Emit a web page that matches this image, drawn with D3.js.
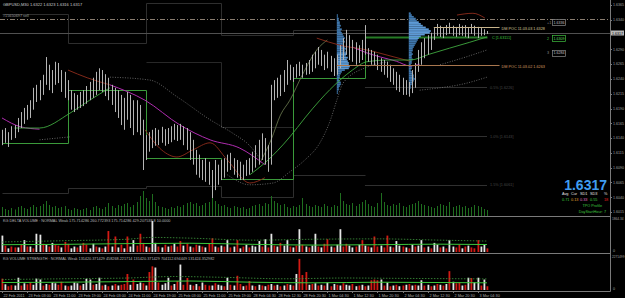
<!DOCTYPE html>
<html>
<head>
<meta charset="utf-8">
<script src="https://cdn.jsdelivr.net/npm/d3@7"></script>
<style>
html, body { margin: 0; padding: 0; background: #000; }
svg { display: block; }
text { font-family: Arial, "Liberation Sans", sans-serif; }
</style>
</head>
<body>
<svg id="chart"></svg>
<script>
// ---- data ----
var symbolTitle = "GBPUSD,M30  1.6322 1.6323 1.6316 1.6317";
var lastPrice = 1.6317;

// one bar per hour, left to right
var highs = [1.6154,1.6157,1.6150,1.6160,1.6162,1.6174,1.6184,1.6191,1.6196,1.6204,
  1.6225,1.6230,1.6238,1.6247,1.6277,1.6264,1.6255,1.6269,1.6267,1.6255,
  1.6252,1.6238,1.6221,1.6216,1.6213,1.6218,1.6221,1.6228,1.6235,1.6242,
  1.6252,1.6258,1.6255,1.6248,1.6242,1.6230,1.6225,1.6221,1.6213,1.6208,
  1.6218,1.6213,1.6204,1.6204,1.6196,1.6171,1.6145,1.6150,1.6154,1.6157,
  1.6154,1.6159,1.6155,1.6157,1.6160,1.6164,1.6162,1.6164,1.6160,1.6157,
  1.6150,1.6137,1.6120,1.6112,1.6103,1.6106,1.6100,1.6086,1.6103,1.6095,
  1.6103,1.6106,1.6112,1.6115,1.6106,1.6103,1.6100,1.6095,1.6103,1.6106,
  1.6117,1.6128,1.6137,1.6148,1.6140,1.6128,1.6230,1.6238,1.6242,1.6247,
  1.6255,1.6272,1.6264,1.6260,1.6265,1.6269,1.6264,1.6267,1.6272,1.6281,
  1.6286,1.6294,1.6289,1.6281,1.6286,1.6279,1.6275,1.6281,1.6297,1.6309,
  1.6323,1.6314,1.6306,1.6302,1.6297,1.6306,1.6331,1.6292,1.6289,1.6286,
  1.6281,1.6275,1.6272,1.6269,1.6264,1.6258,1.6252,1.6247,1.6242,1.6238,
  1.6235,1.6255,1.6267,1.6289,1.6302,1.6309,1.6314,1.6318,1.6326,1.6333,
  1.6330,1.6326,1.6331,1.6335,1.6330,1.6328,1.6333,1.6330,1.6331,1.6326,
  1.6333,1.6330,1.6328,1.6326,1.6324,1.6321];
var lows = [1.6128,1.6132,1.6125,1.6137,1.6140,1.6150,1.6157,1.6164,1.6171,1.6174,
  1.6188,1.6201,1.6204,1.6213,1.6230,1.6221,1.6216,1.6230,1.6233,1.6218,
  1.6208,1.6204,1.6188,1.6184,1.6188,1.6191,1.6194,1.6198,1.6204,1.6208,
  1.6213,1.6221,1.6218,1.6211,1.6204,1.6196,1.6184,1.6174,1.6162,1.6154,
  1.6171,1.6157,1.6145,1.6150,1.6145,1.6086,1.6103,1.6117,1.6123,1.6127,
  1.6128,1.6132,1.6127,1.6130,1.6133,1.6137,1.6135,1.6137,1.6128,1.6120,
  1.6103,1.6095,1.6078,1.6073,1.6069,1.6066,1.6061,1.6030,1.6052,1.6061,
  1.6069,1.6073,1.6083,1.6086,1.6078,1.6073,1.6069,1.6069,1.6076,1.6078,
  1.6083,1.6090,1.6095,1.6103,1.6095,1.6083,1.6095,1.6204,1.6208,1.6211,
  1.6218,1.6230,1.6238,1.6235,1.6242,1.6245,1.6242,1.6247,1.6248,1.6252,
  1.6258,1.6264,1.6262,1.6255,1.6258,1.6252,1.6245,1.6247,1.6258,1.6272,
  1.6281,1.6272,1.6269,1.6264,1.6267,1.6272,1.6281,1.6269,1.6264,1.6262,
  1.6255,1.6252,1.6247,1.6242,1.6235,1.6230,1.6221,1.6218,1.6213,1.6213,
  1.6210,1.6216,1.6225,1.6252,1.6264,1.6275,1.6281,1.6289,1.6306,1.6313,
  1.6311,1.6309,1.6314,1.6316,1.6313,1.6311,1.6314,1.6313,1.6311,1.6309,
  1.6316,1.6313,1.6309,1.6313,1.6314,1.6316];

var tickVolume = [900,700,600,800,650,900,1000,800,700,900,
  1100,900,1000,1200,1500,1100,900,1000,800,900,
  1000,700,600,800,700,600,700,800,600,900,
  1000,800,700,900,1300,1000,800,1100,1000,1200,
  1300,900,1100,1400,2000,2500,1800,1500,2200,1400,
  1000,900,800,700,900,800,1000,900,1100,1300,
  1400,1200,1300,1000,1100,1300,1400,1800,1500,1200,
  1000,1100,900,800,1000,900,800,900,700,800,
  1000,1100,1200,1000,1300,1200,2000,1500,1300,1100,
  1200,900,800,1000,900,1100,1800,1200,1000,900,
  1100,1000,900,1200,1000,900,1100,1000,2300,1500,
  1200,1100,1300,1000,1200,1400,1600,1200,1000,900,
  1300,2300,1400,1100,1000,1200,1100,1300,1000,900,
  1100,1200,1300,1500,1200,1100,1000,900,800,1000,
  1200,1100,1000,1400,900,1000,1100,900,1000,800,
  900,1100,1000,900,700,600];

// sign: + white bar, - red bar
var deltaVolume = [900,-350,200,-300,-250,250,-400,650,-300,300,
  -200,1000,950,-450,400,-300,500,-400,-350,250,
  -550,-450,200,300,-250,350,-500,-400,200,450,
  -300,250,-200,300,-1150,300,-850,250,-400,200,
  -850,300,650,-350,-1000,-500,300,-250,1700,500,
  -300,250,-400,300,-350,450,-300,-600,350,-450,
  300,-250,-400,350,-300,250,-450,-750,300,-250,
  350,-300,650,-250,300,-650,200,-300,400,-250,
  350,300,600,-300,700,-250,1000,-350,300,-500,
  350,650,-300,250,-350,1250,-400,300,-250,350,
  1000,-300,250,-450,-700,300,-250,400,1250,-300,
  -450,350,250,-300,400,-650,350,-300,250,-850,
  -300,350,-250,-900,300,-250,600,350,-300,250,
  -200,400,-300,350,650,-250,300,-200,500,400,
  -250,300,-200,650,300,-250,-400,200,-300,350,
  -250,-200,-650,300,400,-200];
var deltaAvg = [[0,400],[20,420],[40,460],[60,480],[80,420],[100,380],[120,400],[140,430],[155,410]];
var deltaBand = [[0,550],[20,620],[40,700],[48,800],[60,760],[80,650],[100,700],[120,720],[140,650],[155,600]];

// thousands, sign: + white bar, - red bar
var volStrength = [-760,380,-250,-320,300,820,-300,450,-380,-500,
  350,760,700,-300,400,-350,500,450,-350,-550,
  300,-250,300,500,450,-300,400,750,700,-350,
  400,820,-300,350,-250,300,-400,300,-350,-400,
  -1070,350,-700,400,500,-450,300,-1200,-1580,1500,
  -500,350,450,820,-300,400,-600,1700,-350,-800,
  350,-300,400,-250,500,-350,-300,300,-450,350,
  300,-250,820,-350,300,-950,-400,250,-300,-600,
  300,-250,350,-300,250,-350,400,-300,350,-250,
  300,-400,350,-300,1070,-2080,-1000,-1200,350,-400,
  450,-300,350,-300,500,-250,400,-350,300,-450,
  350,300,-400,250,-300,350,-250,300,-650,-700,
  -650,700,-300,500,-250,300,-350,250,-300,350,
  -400,300,-350,300,650,-300,350,-250,300,-400,
  350,-300,400,-1260,550,-450,-500,300,-350,820,
  -800,500,820,-300,700,-250];
var strengthAvg = [[0,500],[20,520],[40,560],[60,600],[80,520],[100,480],[120,520],[140,500],[155,480]];
var strengthBand = [[0,700],[20,750],[40,800],[55,900],[70,850],[90,750],[110,800],[125,780],[140,760],[155,740]];

var priceTicks = [1.6365,1.6340,1.6290,1.6265,1.6240,1.6215,1.6190,1.6165,1.6140,1.6115,1.6090,1.6065,1.6040,1.6015];
var timeLabels = ["22 Feb 2011","23 Feb 03:00","23 Feb 11:00","23 Feb 19:00","24 Feb 03:00","24 Feb 11:00",
  "24 Feb 19:00","25 Feb 03:00","25 Feb 11:00","25 Feb 19:00","28 Feb 04:30","28 Feb 12:30","28 Feb 20:30",
  "1 Mar 04:30","1 Mar 12:30","1 Mar 20:30","2 Mar 04:30","2 Mar 12:30","2 Mar 20:30","3 Mar 04:30"];

// session levels (bar index, price), drawn as steps
var valueStep = [[0,1.6132],[21,1.6221],[46,1.6106],[70,1.6071],[93,1.6242],[116,1.6311],[155,1.6311]];
var prevHigh = [[0,1.6350],[21,1.6301],[46,1.6368],[70,1.6314],[93,1.6323],[116,1.6323]];
var prevMid = [[46,1.6269],[70,1.6159],[93,1.6159]];
var prevLow = [[0,1.6047],[21,1.6056],[46,1.6059],[70,1.6040],[93,1.6078],[116,1.6078]];
var pctLevels = [1.6226, 1.6143, 1.6061];
var pctNames = ["0.5% [1.6226]", "1.0% [1.6143]", "1.5% [1.6061]"];

// indicator curves (bar index, price)
var magentaA = [[0,1.6174],[6,1.6159],[12,1.6155]];
var magentaB = [[34.5,1.6230],[45.7,1.6204],[56.9,1.6162],[66.5,1.6137],[76,1.6123],[84,1.6095]];
var magentaC = [[112,1.6294],[116.6,1.6284],[121,1.6277],[126,1.6270],[130.4,1.6262],[133.5,1.6265]];
var brownA = [[21.1,1.6255],[27.2,1.6242],[34.5,1.6230]];
var brownB = [[45.7,1.6154],[51,1.6120],[55.9,1.6108],[61,1.6120],[66.5,1.6132],[72,1.6103],[79.2,1.6064],[84,1.6073]];
var brownC = [[100.6,1.6309],[108,1.6297],[116.6,1.6289],[124,1.6279],[130.4,1.6270]];
var brownD = [[145.4,1.6348],[150.5,1.6351],[154.3,1.6343]];
var greenA = [[4,1.6157],[12,1.6157],[21.7,1.6182],[28,1.6204],[34.5,1.6225]];
var greenB = [[79.2,1.6078],[84,1.6098],[92,1.6142],[96.8,1.6174],[101.6,1.6204],[108,1.6238],[112,1.6255],
  [116.6,1.6269],[124,1.6272],[130.4,1.6272],[136.7,1.6282],[143,1.6292],[149.5,1.6302],[155,1.6311]];
var oliveA = [[82.4,1.6098],[86,1.6137],[89,1.6179],[92,1.6204],[96,1.6247],[100.6,1.6289],[104,1.6306]];
var dotA = [[34.5,1.6243],[47.3,1.6238],[55.9,1.6210],[66.5,1.6171],[73.8,1.6148],[79,1.6128],[82.4,1.6106]];
var dotB = [[72,1.6078],[79.2,1.6061],[86.6,1.6064],[92,1.6083],[96.8,1.6103],[101.6,1.6132],[105,1.6171],
  [107,1.6204],[109,1.6233],[116.6,1.6260],[124,1.6269]];
var dotC = [[133.5,1.6221],[140,1.6225],[147,1.6231],[155,1.6243]];
var dotD = [[140,1.6264],[147,1.6275],[155,1.6289]];
var dotE = [[12,1.6137],[21.7,1.6142]];

// TPO profiles: counts per row from the top price down
var tpoStep = 0.0003;
var tpo1Top = 1.6348, tpo1Bar = 107;
var tpo1Counts = [1,1,2,2,3, 3,4,3,5,4,5, 6,7,8,7,8,6,7,8,9,8, 9,10,9,11,10,11,12,12,13,12, 8,5,4,3,3,2, 3,4,4,3,2,2,1,1];
var tpo2Top = 1.6351, tpo2Bar = 130;
var tpo2Counts = [2,3,5,7,8,10,12,14, 17,20,22,21,16,12, 10,9,8,7,6,5, 4,4,3,4,3,3,4,3,3,2,3, 3,2,3,4,5,5,6,5,4,3,2,2,1,1,1];

var pocPrices = [1.6328, 1.6263];
var pocFrom = [138, 107];
var pocNames = ["DM POC 11.03.03 1.6328", "DM POC 11.03.02 1.6263"];
var closeLevel = 1.6311, closeName = "C [1.63111]";
var tradeLevel = 1.6341, tradeName = "#15650697 sell";
var markPrices = [1.6336, 1.6309, 1.6284];
var markTags = ["+1", "2", "3"];

var statHeads = ["Avg", "Cur", "SD1", "SD3", "%"];
var statValues = ["0.71", "0.13", "0.33", "0.55", "18"];

// ---- layout ----
var WIDTH = 625, HEIGHT = 298;
var axisX = 610, mainBottom = 216, p1Bottom = 253, p2Bottom = 291;

var svg = d3.select("#chart").attr("width", WIDTH).attr("height", HEIGHT);
svg.append("rect").attr("width", WIDTH).attr("height", HEIGHT).attr("fill", "#000");

svg.append("defs").append("clipPath").attr("id", "mainClip")
  .append("rect").attr("x", 0).attr("y", 0).attr("width", axisX).attr("height", mainBottom);

var xBar = d3.scaleLinear().domain([0, 155]).range([2, 487]);
var yP = d3.scaleLinear().domain([1.6015, 1.6365]).range([212, 5]);
var yVol = d3.scaleLinear().domain([0, 3000]).range([mainBottom, mainBottom - 30]);
var yD = d3.scaleLinear().domain([0, 1864.34]).range([p1Bottom - 1, 218]);
var yS = d3.scaleLinear().domain([0, 2271.499]).range([p2Bottom - 1, 256]);
var wCount = d3.scaleLinear().domain([0, 22]).range([0, 22]);

var main = svg.append("g").attr("clip-path", "url(#mainClip)");

var smoothLine = d3.line().x(d => xBar(d[0])).y(d => yP(d[1])).curve(d3.curveMonotoneX);
var stepLine = d3.line().x(d => Math.round(xBar(d[0])) + 0.5).y(d => Math.round(yP(d[1])) + 0.5)
  .curve(d3.curveStepAfter);

function path(g, pts, gen, color, width, dash) {
  var p = g.append("path").datum(pts).attr("d", gen)
    .attr("fill", "none").attr("stroke", color).attr("stroke-width", width);
  if (dash) p.attr("stroke-dasharray", dash);
  return p;
}

// previous session levels
path(main, prevHigh, stepLine, "#2e2e2e", 1);
path(main, prevMid, stepLine, "#282828", 1);
path(main, prevLow, stepLine, "#2e2e2e", 1);
pctLevels.forEach(function (p, i) {
  main.append("line").attr("x1", xBar(116)).attr("x2", xBar(155))
    .attr("y1", Math.round(yP(p)) + 0.5).attr("y2", Math.round(yP(p)) + 0.5)
    .attr("stroke", "#303030");
  main.append("text").attr("x", xBar(155) + 3).attr("y", yP(p) + 1.5)
    .attr("font-size", 3.8).attr("fill", "#454545").text(pctNames[i]);
});

// trade line
main.append("line").attr("x1", 0).attr("x2", axisX)
  .attr("y1", Math.round(yP(tradeLevel)) + 0.5).attr("y2", Math.round(yP(tradeLevel)) + 0.5)
  .attr("stroke", "#8a7d70").attr("stroke-dasharray", "5,2,1,2");
main.append("text").attr("x", 3).attr("y", yP(tradeLevel) - 2)
  .attr("font-size", 3.8).attr("fill", "#9a9a9a").text(tradeName);

// bid line
main.append("line").attr("x1", 0).attr("x2", axisX)
  .attr("y1", Math.round(yP(lastPrice)) + 0.5).attr("y2", Math.round(yP(lastPrice)) + 0.5)
  .attr("stroke", "#505050");

// value area step
path(main, valueStep.slice(0, 6), stepLine, "#3a9a3a", 1);
path(main, valueStep.slice(5), stepLine, "#257a25", 2);

// TPO profiles
function profile(counts, top, bar) {
  var rowH = yP(top - tpoStep) - yP(top);
  main.append("g").selectAll("rect").data(counts).enter().append("rect")
    .attr("x", xBar(bar))
    .attr("y", (d, i) => yP(top - i * tpoStep) - rowH / 2)
    .attr("width", d => wCount(d))
    .attr("height", rowH)
    .attr("fill", (d, i) => (d >= 10 ? "#5d9ad6" : "#3f77ad"));
}
profile(tpo1Counts, tpo1Top, tpo1Bar);
profile(tpo2Counts, tpo2Top, tpo2Bar);

// dotted bands
[dotA, dotB, dotC, dotD, dotE].forEach(function (d) {
  path(main, d, smoothLine, "#7a7a7a", 0.8, "1,1.5");
});
path(main, oliveA, smoothLine, "#6e7d52", 0.8);

// moving averages
[magentaA, magentaB, magentaC].forEach(d => path(main, d, smoothLine, "#b02cb0", 1));
[brownA, brownB, brownC, brownD].forEach(d => path(main, d, smoothLine, "#8e2c1c", 0.9));
[greenA, greenB].forEach(d => path(main, d, smoothLine, "#3fa83f", 0.9));

// price bars
main.append("g").selectAll("line").data(highs).enter().append("line")
  .attr("x1", (d, i) => Math.round(xBar(i)) + 0.5)
  .attr("x2", (d, i) => Math.round(xBar(i)) + 0.5)
  .attr("y1", d => yP(d))
  .attr("y2", (d, i) => yP(lows[i]))
  .attr("stroke", "#b4b4b4").attr("stroke-width", 1);

// tick volume
main.append("g").selectAll("rect").data(tickVolume).enter().append("rect")
  .attr("x", (d, i) => Math.round(xBar(i)))
  .attr("y", d => yVol(d))
  .attr("width", 1)
  .attr("height", d => mainBottom - yVol(d))
  .attr("fill", "#1f6e1f");

// POC lines and labels
pocPrices.forEach(function (p, i) {
  var col = i === 0 ? "#c8b48c" : "#a8764e";
  main.append("line").attr("x1", xBar(pocFrom[i])).attr("x2", xBar(159))
    .attr("y1", Math.round(yP(p)) + 0.5).attr("y2", Math.round(yP(p)) + 0.5)
    .attr("stroke", col);
  main.append("text").attr("x", xBar(159) + 2).attr("y", yP(p) + 3)
    .attr("font-size", 3.8).attr("fill", i === 0 ? "#d8c89a" : "#d39a62").text(pocNames[i]);
});
main.append("text").attr("x", xBar(155) + 5).attr("y", yP(closeLevel) + 2.5)
  .attr("font-size", 3.8).attr("fill", "#3fc43f").text(closeName);

// level marks
markPrices.forEach(function (p, i) {
  var y = yP(p);
  var col = i === 1 ? "#3fbf3f" : "#8a8a8a";
  main.append("text").attr("x", 547).attr("y", y + 1.5).attr("font-size", 3.8)
    .attr("fill", col).text(markTags[i]);
  main.append("rect").attr("x", 552.5).attr("y", Math.round(y) - 2.5).attr("width", 13).attr("height", 6)
    .attr("fill", "#000").attr("stroke", col).attr("stroke-width", 0.7);
  main.append("text").attr("x", 559).attr("y", y + 1.5).attr("font-size", 3.6)
    .attr("text-anchor", "middle").attr("fill", i === 1 ? "#5fdf5f" : "#c0c0c0").text(p.toFixed(4));
});

// title
svg.append("text").attr("x", 3).attr("y", 6).attr("font-size", 4).attr("fill", "#cfcfcf").text(symbolTitle);

// big price and stats
svg.append("text").attr("x", 607).attr("y", 190).attr("text-anchor", "end")
  .attr("font-size", 14).attr("font-weight", "bold").attr("fill", "#3f9cf0")
  .text(lastPrice.toFixed(4));
var statX = [562, 571, 580, 590, 604];
var statCol = ["#3fc43f", "#e0a030", "#e070c0", "#3fc43f", "#e02020"];
statHeads.forEach(function (h, i) {
  svg.append("text").attr("x", statX[i]).attr("y", 195).attr("font-size", 3.8)
    .attr("fill", "#e0e0e0").text(h);
  svg.append("text").attr("x", statX[i]).attr("y", 201).attr("font-size", 3.8)
    .attr("fill", statCol[i]).text(statValues[i]);
});
svg.append("text").attr("x", 602).attr("y", 207).attr("text-anchor", "end")
  .attr("font-size", 3.8).attr("fill", "#3fc43f").text("TPO Profile");
svg.append("text").attr("x", 606).attr("y", 213).attr("text-anchor", "end")
  .attr("font-size", 3.8).attr("fill", "#3fc43f").text("DayStartHour: 7");

// sub panels
function subPanel(values, scale, bottom, avg, band, label, topLabel, labelY) {
  var g = svg.append("g");
  g.selectAll("rect").data(values).enter().append("rect")
    .attr("x", (d, i) => Math.round(xBar(i)) - 0.5)
    .attr("y", d => scale(Math.abs(d)))
    .attr("width", 1.8)
    .attr("height", d => bottom - 1 - scale(Math.abs(d)))
    .attr("fill", d => (d < 0 ? "#d41a14" : "#e6e6e6"));
  var lg = d3.line().x(d => xBar(d[0])).y(d => scale(d[1])).curve(d3.curveMonotoneX);
  g.append("path").datum(band).attr("d", lg).attr("fill", "none")
    .attr("stroke", "#3f9a3f").attr("stroke-width", 0.8).attr("stroke-dasharray", "1.5,1.5");
  g.append("path").datum(avg).attr("d", lg).attr("fill", "none")
    .attr("stroke", "#3cc83c").attr("stroke-width", 1);
  g.append("text").attr("x", 3).attr("y", labelY).attr("font-size", 3.8)
    .attr("fill", "#b8b8b8").text(label);
  g.append("text").attr("x", 612).attr("y", scale.range()[1] + 2).attr("font-size", 3.2)
    .attr("fill", "#a0a0a0").text(topLabel);
  g.append("text").attr("x", 613).attr("y", bottom - 1).attr("font-size", 3.6)
    .attr("fill", "#a0a0a0").text("0");
}
subPanel(deltaVolume, yD, p1Bottom, deltaAvg, deltaBand,
  "KG DELTA VOLUME : NORMAL Weak 175.714286 260.772393 175.714286 429.207538 8 10.0000", "1864.34", 222);
subPanel(volStrength, yS, p2Bottom, strengthAvg, strengthBand,
  "KG VOLUME STRENGTH : NORMAL Weak 131420.371429 458268.221714 131420.371429 704112.694449 131424.352982", "2271499", 260);

// frame lines
[mainBottom, p1Bottom, p2Bottom].forEach(function (y) {
  svg.append("line").attr("x1", 0).attr("x2", axisX + 0.5).attr("y1", y + 0.5).attr("y2", y + 0.5)
    .attr("stroke", "#7a7a7a");
});
svg.append("line").attr("x1", axisX + 0.5).attr("x2", axisX + 0.5).attr("y1", 0).attr("y2", p2Bottom + 0.5)
  .attr("stroke", "#7a7a7a");

// price axis
var ax = svg.append("g");
priceTicks.forEach(function (p) {
  ax.append("line").attr("x1", axisX).attr("x2", axisX + 2).attr("y1", Math.round(yP(p)) + 0.5)
    .attr("y2", Math.round(yP(p)) + 0.5).attr("stroke", "#7a7a7a");
  ax.append("text").attr("x", 613).attr("y", yP(p) + 1.3).attr("font-size", 3.6)
    .attr("fill", "#a0a0a0").text(p.toFixed(4));
});
ax.append("rect").attr("x", axisX + 1).attr("y", Math.round(yP(lastPrice)) - 2.5).attr("width", 13).attr("height", 5)
  .attr("fill", "#b8b8b8");
ax.append("text").attr("x", 612).attr("y", yP(lastPrice) + 1.5).attr("font-size", 3.6)
  .attr("fill", "#000").text(lastPrice.toFixed(4));

// time axis
timeLabels.forEach(function (t, k) {
  var x = Math.round(xBar(8 * k)) + 0.5;
  svg.append("line").attr("x1", x).attr("x2", x).attr("y1", p2Bottom).attr("y2", p2Bottom + 2)
    .attr("stroke", "#7a7a7a");
  svg.append("text").attr("x", x + 1).attr("y", 296.5).attr("font-size", 3.8)
    .attr("fill", "#a8a8a8").text(t);
});
</script>
</body>
</html>
